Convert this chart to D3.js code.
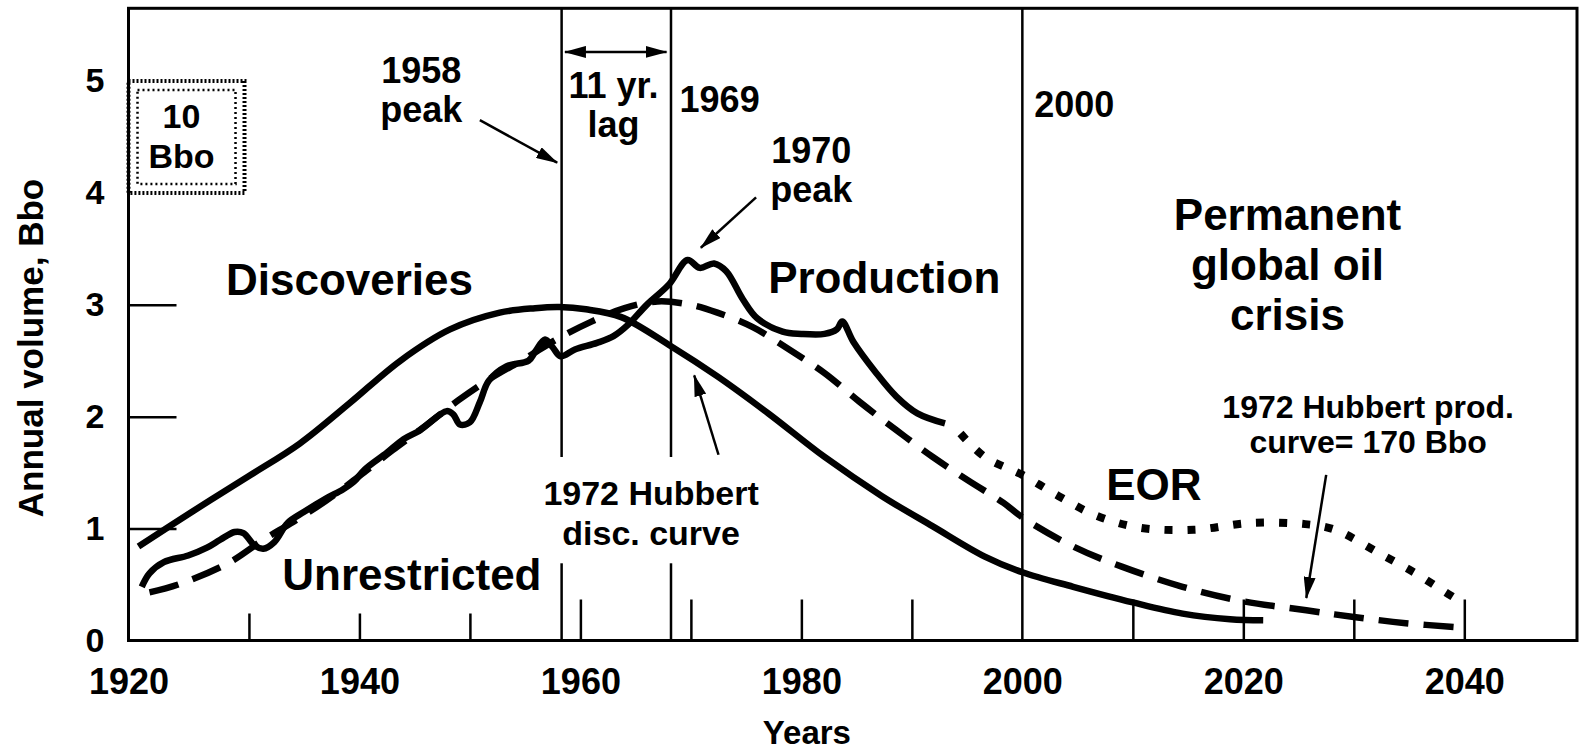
<!DOCTYPE html>
<html>
<head>
<meta charset="utf-8">
<script src="https://cdn.jsdelivr.net/npm/d3@7"></script>
<style>
  body { margin: 0; background: #fff; }
  svg text { font-family: "Liberation Sans", Arial, Helvetica, sans-serif; font-weight: bold; fill: #000; }
</style>
</head>
<body>
<div id="chart"></div>
<script>
'use strict';

// discoveries, rising to the 1958 peak, then the 1972 Hubbert discovery curve
const discYears  = [1920.0, 1925, 1930, 1934.6, 1939.1, 1943.7, 1948.2, 1952.7, 1955.9, 1958.1, 1960.5, 1963.7,
                    1968.2, 1972.4, 1977, 1982.1, 1987.3, 1991.9, 1996.6, 2000, 2004.6, 2010, 2014.5, 2018.8, 2021.8];
const discValues = [0.84, 1.16, 1.47, 1.76, 2.12, 2.5, 2.78, 2.93, 2.97, 2.98, 2.96, 2.89,
                    2.63, 2.36, 2.03, 1.64, 1.29, 1.02, 0.75, 0.61, 0.48, 0.34, 0.24, 0.19, 0.18];

// unrestricted production (actual), up to the early nineties
const prodYears  = [1920.3, 1921, 1922.3, 1924.5, 1926.2, 1927.4, 1928.7, 1929.5, 1930.5, 1931.3, 1932.3, 1933.5,
                    1935, 1937, 1938.5, 1939.5, 1940.5, 1942.5, 1944, 1945.5, 1947.9, 1948.5, 1949.1, 1950,
                    1950.9, 1951.7, 1953.3, 1955.3, 1955.9, 1956.8, 1957.5, 1958.2, 1959.5, 1961.5, 1963,
                    1964.3, 1966, 1968, 1969.7, 1970.8, 1972.1, 1973.2, 1974.7, 1976, 1978.3, 1980, 1982.1,
                    1983.2, 1983.7, 1984.7, 1986.7, 1988.6, 1990.5, 1993];
const prodValues = [0.48, 0.6, 0.7, 0.76, 0.83, 0.9, 0.97, 0.96, 0.85, 0.82, 0.88, 1.05,
                    1.15, 1.27, 1.35, 1.42, 1.53, 1.68, 1.8, 1.88, 2.05, 2.02, 1.93, 1.95,
                    2.13, 2.32, 2.45, 2.5, 2.58, 2.69, 2.62, 2.54, 2.6, 2.66, 2.72,
                    2.82, 3.0, 3.18, 3.4, 3.33, 3.37, 3.3, 3.05, 2.88, 2.76, 2.74, 2.74,
                    2.78, 2.85, 2.67, 2.4, 2.18, 2.03, 1.94];

// 1972 Hubbert production curve (170 Bbo), dashed
const hubbertYears  = [1921, 1923.6, 1928.1, 1931.3, 1934, 1937, 1940, 1943, 1946, 1949, 1952, 1955, 1958, 1961,
                       1964, 1967, 1970, 1972.4, 1975.6, 1978.9, 1982.1, 1985.3, 1988.6, 1991.9, 1995.1, 1998.3,
                       2000, 2004.6, 2009, 2014.5, 2020, 2025.7, 2030, 2034.7, 2039.2];
const hubbertValues = [0.43, 0.5, 0.69, 0.9, 1.06, 1.25, 1.47, 1.7, 1.92, 2.15, 2.35, 2.52, 2.7, 2.85,
                       2.97, 3.03, 3.0, 2.93, 2.8, 2.6, 2.39, 2.13, 1.88, 1.64, 1.43, 1.23,
                       1.1, 0.84, 0.66, 0.48, 0.35, 0.27, 0.21, 0.155, 0.12];

// enhanced oil recovery, dotted
const eorYears  = [1994.4, 1996.6, 2000, 2003.3, 2006.6, 2010.5, 2015.5, 2020.6, 2025.6, 2028.3, 2032.3, 2035.6, 2038, 2039.6];
const eorValues = [1.85, 1.64, 1.48, 1.29, 1.12, 1.01, 0.99, 1.05, 1.04, 0.99, 0.78, 0.6, 0.45, 0.35];

// axis ticks
const xTickYears = [1920, 1940, 1960, 1980, 2000, 2020, 2040];
const yTickValues = [0, 1, 2, 3, 4, 5];
const innerYTicks = [1, 2, 3];
const decadeTicks = [1930, 1940, 1950, 1960, 1970, 1980, 1990, 2010, 2020, 2030, 2040];

// vertical reference lines (1958 peak, 1969, 2000)
const markerYears = [1958.3, 1968.2, 2000];

(function() {

  let svg = "";
  let x = null;
  let y = null;

  window.onload = function() {
    svg = d3.select('#chart')
      .append('svg')
      .attr('width', 1579)
      .attr('height', 753);

    // scales: the frame runs a little past 1919 on the left and to ~2050 on the right
    x = d3.scaleLinear().domain([1919.1, 2050.2]).range([128.5, 1577]);
    y = d3.scaleLinear().domain([0, 5.65]).range([640.5, 8.3]);

    makeDefs();
    drawFrame();
    drawAxes();
    plotCurves();
    drawScaleBox();
    makeLabels();
    drawArrows();
  }

  function makeDefs() {
    svg.append('defs').append('marker')
      .attr('id', 'head')
      .attr('viewBox', '0 0 22 12')
      .attr('refX', 21)
      .attr('refY', 6)
      .attr('markerWidth', 22)
      .attr('markerHeight', 12)
      .attr('markerUnits', 'userSpaceOnUse')
      .attr('orient', 'auto-start-reverse')
      .append('path')
      .attr('d', 'M0,0L22,6L0,12Z')
      .attr('fill', '#000');
  }

  // plot border and the vertical year markers
  function drawFrame() {
    svg.append('rect')
      .attr('x', x(1919.1))
      .attr('y', y(5.65))
      .attr('width', x(2050.2) - x(1919.1))
      .attr('height', y(0) - y(5.65))
      .attr('fill', 'none')
      .attr('stroke', '#000')
      .attr('stroke-width', 3);

    svg.selectAll('.marker-line')
      .data(markerYears)
      .enter()
      .append('line')
      .attr('class', 'marker-line')
      .attr('x1', (d) => x(d))
      .attr('x2', (d) => x(d))
      .attr('y1', y(5.65))
      .attr('y2', y(0))
      .attr('stroke', '#000')
      .attr('stroke-width', 2.5);

    // white patch behind the discovery curve note, it breaks the marker lines
    svg.append('rect')
      .attr('x', x(1954.5))
      .attr('y', y(1.64))
      .attr('width', x(1978) - x(1954.5))
      .attr('height', y(0.69) - y(1.64))
      .attr('fill', '#fff');
  }

  function drawAxes() {
    let xAxis = d3.axisBottom(x)
      .tickValues(xTickYears)
      .tickSize(0)
      .tickPadding(28)
      .tickFormat(d3.format('d'));
    let gx = svg.append('g')
      .attr('transform', 'translate(0,' + y(0) + ')')
      .call(xAxis);
    gx.select('.domain').remove();
    gx.selectAll('text')
      .style('font-size', '36px');
    // the first label sits under the corner of the frame
    gx.selectAll('.tick text')
      .filter((d) => d === 1920)
      .attr('dx', -10);

    let yAxis = d3.axisLeft(y)
      .tickValues(yTickValues)
      .tickSize(0)
      .tickPadding(24)
      .tickFormat(d3.format('d'));
    let gy = svg.append('g')
      .attr('transform', 'translate(' + x(1919.1) + ',0)')
      .call(yAxis);
    gy.select('.domain').remove();
    gy.selectAll('text')
      .style('font-size', '34px');

    // inward ticks on the left side
    let gyIn = svg.append('g')
      .attr('transform', 'translate(' + x(1919.1) + ',0)')
      .call(d3.axisRight(y).tickValues(innerYTicks).tickSize(48).tickFormat(''));
    gyIn.select('.domain').remove();
    gyIn.selectAll('line').attr('stroke-width', 2.5);

    // inward decade ticks on the bottom, shorter before 1960
    let gxShort = svg.append('g')
      .attr('transform', 'translate(0,' + y(0) + ')')
      .call(d3.axisTop(x).tickValues(decadeTicks.filter((d) => d < 1960)).tickSize(27).tickFormat(''));
    gxShort.select('.domain').remove();
    gxShort.selectAll('line').attr('stroke-width', 2.5);

    let gxLong = svg.append('g')
      .attr('transform', 'translate(0,' + y(0) + ')')
      .call(d3.axisTop(x).tickValues(decadeTicks.filter((d) => d >= 1960)).tickSize(41).tickFormat(''));
    gxLong.select('.domain').remove();
    gxLong.selectAll('line').attr('stroke-width', 2.5);

    svg.append('text')
      .attr('x', x(1980.5))
      .attr('y', 744)
      .attr('text-anchor', 'middle')
      .style('font-size', '33px')
      .text('Years');

    svg.append('text')
      .attr('transform', 'translate(43,' + 348 + ')rotate(-90)')
      .attr('text-anchor', 'middle')
      .style('font-size', '35px')
      .text('Annual volume, Bbo');
  }

  function plotCurves() {
    let line = d3.line()
      .x((d) => x(d[0]))
      .y((d) => y(d[1]))
      .curve(d3.curveCatmullRom.alpha(0.5));

    let series = [
      { years: discYears, values: discValues, dash: null },
      { years: prodYears, values: prodValues, dash: null },
      { years: hubbertYears, values: hubbertValues, dash: '30,15' },
      { years: eorYears, values: eorValues, dash: '8,15' }
    ];

    svg.selectAll('.curve')
      .data(series)
      .enter()
      .append('path')
      .attr('class', 'curve')
      .attr('d', (s) => line(d3.zip(s.years, s.values)))
      .attr('fill', 'none')
      .attr('stroke', '#000')
      .attr('stroke-width', (s) => s.dash === '8,15' ? 8 : 6.5)
      .attr('stroke-linejoin', 'round')
      .attr('stroke-dasharray', (s) => s.dash);
  }

  // the "10 Bbo" scale box with its stippled double border
  function drawScaleBox() {
    let bx = x(1919.1);
    let by = y(5);
    let bw = x(1929.6) - x(1919.1);
    let bh = y(4) - y(5);
    svg.append('rect')
      .attr('x', bx).attr('y', by)
      .attr('width', bw).attr('height', bh)
      .attr('fill', 'none')
      .attr('stroke', '#000')
      .attr('stroke-width', 4)
      .attr('stroke-dasharray', '2,2');
    svg.append('rect')
      .attr('x', bx + 9).attr('y', by + 9)
      .attr('width', bw - 18).attr('height', bh - 18)
      .attr('fill', 'none')
      .attr('stroke', '#000')
      .attr('stroke-width', 2.5)
      .attr('stroke-dasharray', '2,3');
  }

  // multi line text, centred on a year, first baseline on a value
  function addText(lines, year, value, size, gap) {
    let t = svg.append('text')
      .attr('x', x(year))
      .attr('y', y(value))
      .attr('text-anchor', 'middle')
      .style('font-size', size + 'px');
    lines.forEach((str, i) => {
      t.append('tspan')
        .attr('x', x(year))
        .attr('dy', i === 0 ? 0 : gap)
        .text(str);
    });
  }

  function makeLabels() {
    addText(['10', 'Bbo'], 1923.9, 4.58, 34, 40);
    addText(['Discoveries'], 1939.1, 3.09, 44, 0);
    addText(['Production'], 1987.5, 3.11, 44, 0);
    addText(['Unrestricted'], 1944.75, 0.45, 44, 0);
    addText(['EOR'], 2011.9, 1.26, 44, 0);
    addText(['Permanent', 'global oil', 'crisis'], 2024.0, 3.67, 44, 50);
    addText(['1958', 'peak'], 1945.6, 4.98, 36, 39);
    addText(['11 yr.', 'lag'], 1963.0, 4.85, 36, 39);
    addText(['1969'], 1972.6, 4.72, 36, 0);
    addText(['2000'], 2004.7, 4.68, 36, 0);
    addText(['1970', 'peak'], 1980.9, 4.27, 36, 39);
    addText(['1972 Hubbert', 'disc. curve'], 1966.4, 1.21, 34, 40);
    addText(['1972 Hubbert prod.', 'curve= 170 Bbo'], 2031.3, 1.99, 32, 35);
  }

  function drawArrows() {
    let arrows = [
      { from: [1950.9, 4.65], to: [1957.9, 4.27], both: false },
      { from: [1975.9, 3.96], to: [1970.9, 3.51], both: false },
      { from: [1972.5, 1.66], to: [1970.3, 2.37], both: false },
      { from: [2027.5, 1.48], to: [2025.7, 0.38], both: false },
      { from: [1958.6, 5.26], to: [1967.8, 5.26], both: true }
    ];
    svg.selectAll('.arrow')
      .data(arrows)
      .enter()
      .append('line')
      .attr('class', 'arrow')
      .attr('x1', (a) => x(a.from[0]))
      .attr('y1', (a) => y(a.from[1]))
      .attr('x2', (a) => x(a.to[0]))
      .attr('y2', (a) => y(a.to[1]))
      .attr('stroke', '#000')
      .attr('stroke-width', 2.5)
      .attr('marker-end', 'url(#head)')
      .attr('marker-start', (a) => a.both ? 'url(#head)' : null);
  }

})();
</script>
</body>
</html>
